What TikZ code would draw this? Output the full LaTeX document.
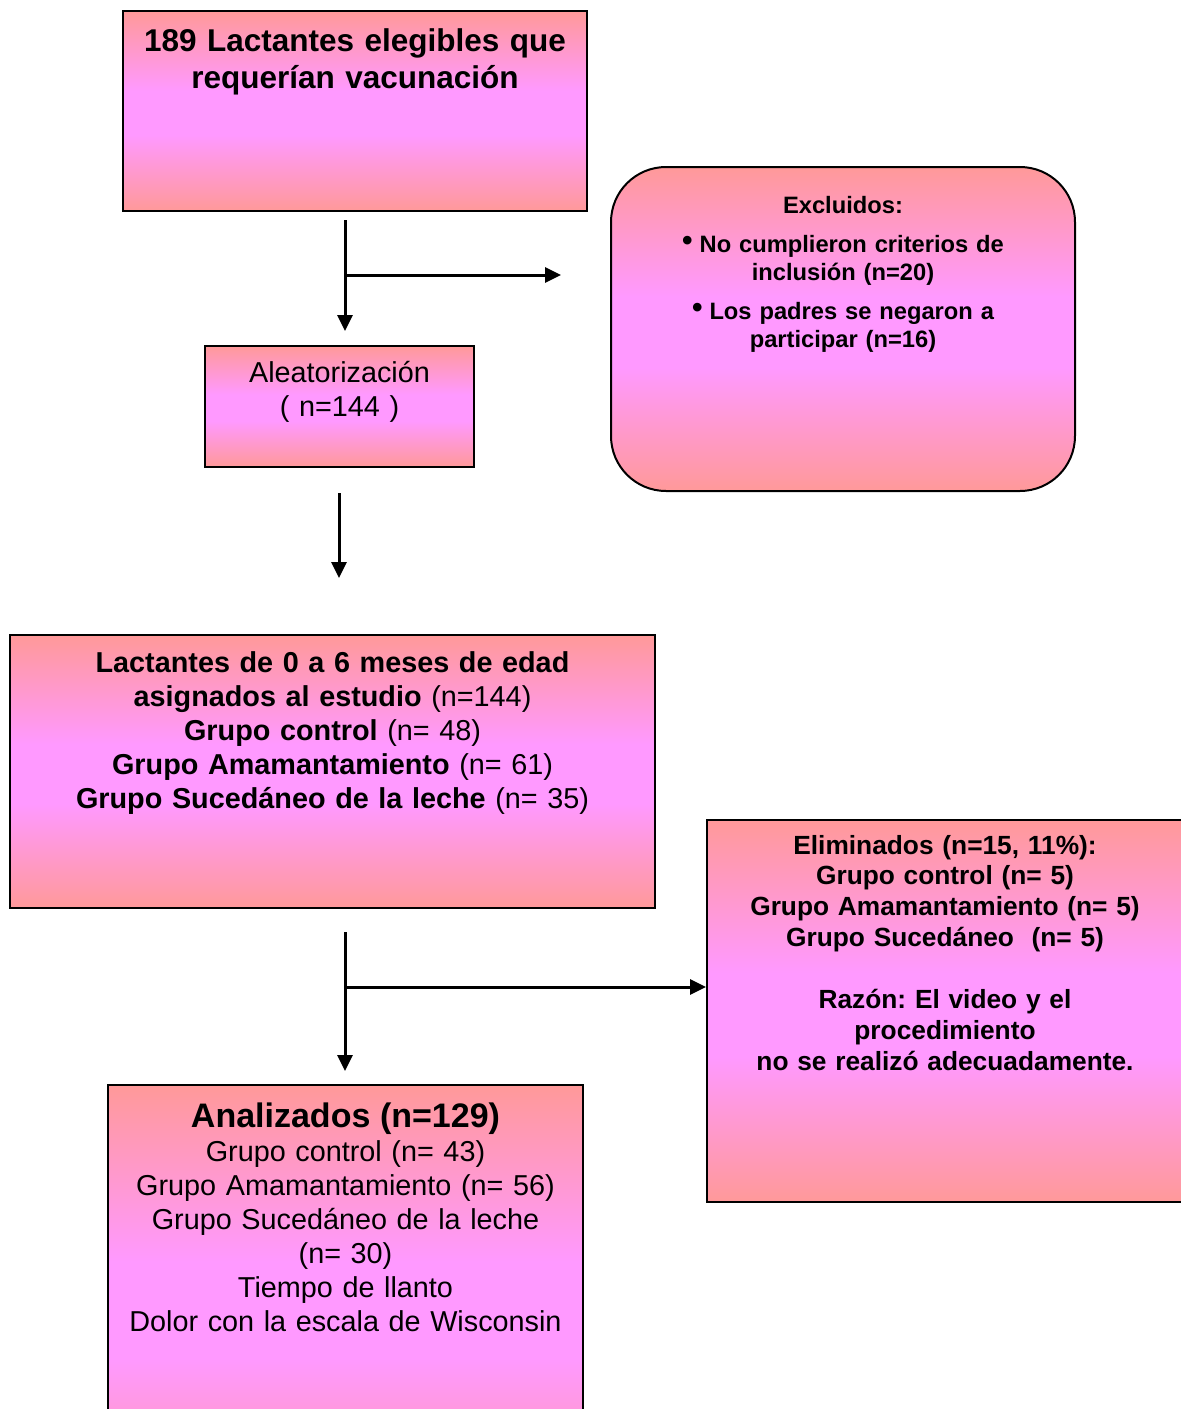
\documentclass[tikz,border=0pt]{standalone}
\usepackage{fontspec}
\setmainfont{Liberation Sans}
\usetikzlibrary{arrows.meta, calc}
\frenchspacing
\definecolor{SalmonBox}{RGB}{255, 153, 153}
\definecolor{PinkBox}{RGB}{255, 153, 255}
\pgfdeclareverticalshading{salmonpink}{100bp}{color(0bp)=(SalmonBox); color(25bp)=(SalmonBox); color(44bp)=(PinkBox); color(55bp)=(PinkBox); color(75bp)=(SalmonBox); color(100bp)=(SalmonBox)}
\newcommand{\vineta}{\raisebox{2pt}{\fontsize{30}{30}\selectfont •}\hspace{7pt}}
\tikzset{
  caja/.style={draw=black, line width=2pt, shade, shading=salmonpink, anchor=north, inner sep=0pt, align=center},
  flecha/.style={line width=3pt, -{Triangle[length=16pt, width=15pt]}},
  grande/.style={font=\fontsize{31.5}{37}\selectfont\bfseries},
  normal/.style={font=\fontsize{28.8}{34}\selectfont},
  chica/.style={font=\fontsize{23.7}{27.6}\selectfont\bfseries},
  media/.style={font=\fontsize{26.3}{30.9}\selectfont\bfseries}
}
\begin{document}
\begin{tikzpicture}[x=1pt, y=-1pt]
  \useasboundingbox (0,0) rectangle (1181,1409);
  \clip (0,0) rectangle (1181,1409);
  % cajas
  \node[caja, grande, minimum width=464pt, text width=440pt, text height=40pt, text depth=160pt] (elig) at (355,10) {189 Lactantes elegibles que\\requerían vacunación};
  \node[caja, chica, rounded corners=55pt, minimum width=464pt, text width=440pt, text height=46pt, text depth=278pt] (excl) at (843,166) {Excluidos:\\[12pt]\vineta No cumplieron criterios de\\inclusión (n=20)\\[12pt]\vineta Los padres se negaron a\\participar (n=16)};
  \node[caja, normal, minimum width=269pt, text width=250pt, text height=36pt, text depth=85pt] (alea) at (339.5,345) {Aleatorización\\( n=144 )};
  \node[caja, normal, minimum width=645pt, text width=620pt, text height=37pt, text depth=236pt] (lact) at (332.5,634) {\textbf{Lactantes de 0 a 6 meses de edad}\\\textbf{asignados al estudio} (n=144)\\\textbf{Grupo control} (n= 48)\\\textbf{Grupo Amamantamiento} (n= 61)\\\textbf{Grupo Sucedáneo de la leche} (n= 35)};
  \node[caja, media, minimum width=476pt, text width=450pt, text height=34pt, text depth=348pt] (elim) at (945,819) {Eliminados (n=15, 11\%):\\Grupo control (n= 5)\\Grupo Amamantamiento (n= 5)\\Grupo Sucedáneo~~(n= 5)\\[30.9pt]Razón: El video y el\\procedimiento\\no se realizó adecuadamente.};
  \node[caja, normal, minimum width=475pt, text width=450pt, text height=42pt, text depth=400pt] (anal) at (345.5,1084) {{\fontsize{34}{39}\selectfont\bfseries Analizados (n=129)}\\Grupo control (n= 43)\\Grupo Amamantamiento (n= 56)\\Grupo Sucedáneo de la leche\\(n= 30)\\Tiempo de llanto\\Dolor con la escala de Wisconsin};
  % flechas
  \coordinate (f1a) at (345,220);
  \coordinate (f1b) at (345,331);
  \coordinate (f1c) at (345,275);
  \coordinate (f1d) at (561,275);
  \coordinate (f2a) at (339,493);
  \coordinate (f2b) at (339,578);
  \coordinate (f3a) at (345,932);
  \coordinate (f3b) at (345,1071);
  \coordinate (f3c) at (345,987);
  \draw[flecha] (f1a) -- (f1b);
  \draw[flecha] (f1c) -- (f1d);
  \draw[flecha] (f2a) -- (f2b);
  \draw[flecha] (f3a) -- (f3b);
  \draw[flecha] (f3c) -- (f3c -| elim.west);
\end{tikzpicture}
\end{document}
